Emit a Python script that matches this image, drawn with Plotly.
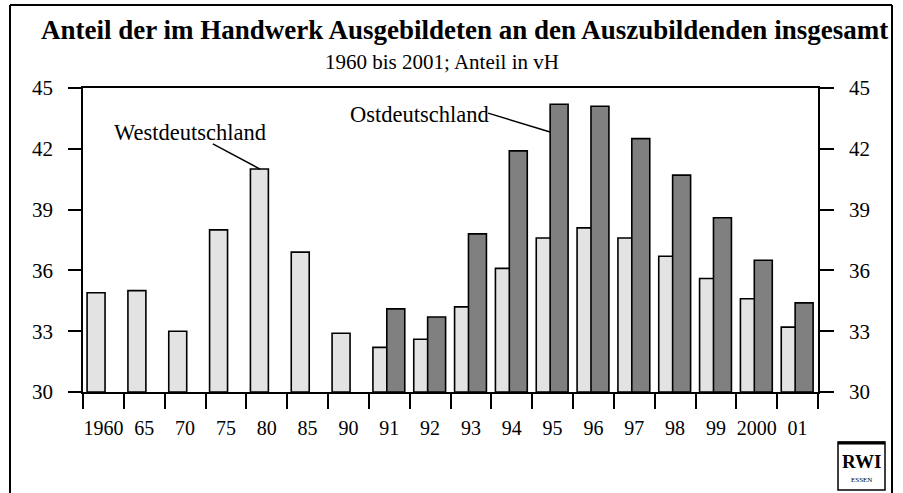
import plotly.graph_objects as go

categories = ["1960", "65", "70", "75", "80", "85", "90", "91", "92", "93",
              "94", "95", "96", "97", "98", "99", "2000", "01"]
west = [34.9, 35.0, 33.0, 38.0, 41.0, 36.9, 32.9, 32.2, 32.6, 34.2,
        36.1, 37.6, 38.1, 37.6, 36.7, 35.6, 34.6, 33.2]
east = [None, None, None, None, None, None, None, 34.1, 33.7, 37.8,
        41.9, 44.2, 44.1, 42.5, 40.7, 38.6, 36.5, 34.4]
y_ticks = [30, 33, 36, 39, 42, 45]

title = "Anteil der im Handwerk Ausgebildeten an den Auszubildenden insgesamt"
subtitle = "1960 bis 2001; Anteil in vH"

FONT = "Liberation Serif"

fig = go.Figure()
fig.add_trace(go.Bar(
    x=categories, y=[v - 30 for v in west], base=30,
    offset=-0.40, width=0.44,
    marker=dict(color="#e3e3e3", line=dict(color="black", width=1.6)),
    name="Westdeutschland", showlegend=False, hoverinfo="skip",
))
fig.add_trace(go.Bar(
    x=categories, y=[(v - 30) if v is not None else None for v in east], base=30,
    offset=-0.06, width=0.44,
    marker=dict(color="#808080", line=dict(color="black", width=1.6)),
    name="Ostdeutschland", showlegend=False, hoverinfo="skip",
))
# invisible trace to activate the right-hand axis
fig.add_trace(go.Scatter(
    x=categories, y=west, yaxis="y2", mode="markers",
    marker=dict(opacity=0), showlegend=False, hoverinfo="skip",
))

axis_font = dict(family=FONT, size=20, color="black")

fig.update_layout(
    width=903, height=493,
    margin=dict(l=83, r=85, t=88, b=101),
    paper_bgcolor="white", plot_bgcolor="white",
    barmode="overlay",
    font=dict(family=FONT, color="black"),
    xaxis=dict(
        type="category", range=[-0.5, 17.5],
        showline=True, linecolor="black", linewidth=1.5, mirror=True,
        ticks="outside", tickson="boundaries", ticklen=15, tickwidth=1.5,
        tickcolor="black", tickfont=axis_font, showgrid=False,
        tickangle=0, ticklabelstandoff=17, automargin=False,
    ),
    yaxis=dict(
        range=[30, 45], tickvals=y_ticks,
        showline=True, linecolor="black", linewidth=1.5,
        ticks="outside", ticklen=13, tickwidth=1.5, tickcolor="black",
        tickfont=dict(family=FONT, size=21, color="black"), showgrid=False,
        zeroline=False, ticklabelstandoff=11, automargin=False,
    ),
    yaxis2=dict(
        range=[30, 45], tickvals=y_ticks, overlaying="y", side="right",
        showline=True, linecolor="black", linewidth=1.5,
        ticks="outside", ticklen=14, tickwidth=1.5, tickcolor="black",
        tickfont=dict(family=FONT, size=21, color="black"), showgrid=False,
        zeroline=False, ticklabelstandoff=11, automargin=False,
    ),
)

# outer frame (left, top, right; open at the bottom)
L, R, T, B = 83, 818, 88, 392
def px(xp):
    return (xp - L) / (R - L)
def py(yp):
    return (B - yp) / (B - T)

frame = dict(type="line", xref="paper", yref="paper", line=dict(color="black", width=2))
fig.add_shape(**frame, x0=px(10), x1=px(10), y0=py(5), y1=py(510))
fig.add_shape(**frame, x0=px(10), x1=px(892), y0=py(5), y1=py(5))
fig.add_shape(**frame, x0=px(892), x1=px(892), y0=py(5), y1=py(510))

# title and subtitle
fig.add_annotation(text="<b>" + title + "</b>", xref="paper", yref="paper",
                   x=px(464), y=py(30), xanchor="center", yanchor="middle",
                   showarrow=False, font=dict(family=FONT, size=27, color="black"))
fig.add_annotation(text=subtitle, xref="paper", yref="paper",
                   x=px(442), y=py(62), xanchor="center", yanchor="middle",
                   showarrow=False, font=dict(family=FONT, size=21, color="black"))

# series labels with leader lines
lab_font = dict(family=FONT, size=22.5, color="black")
fig.add_annotation(text="Westdeutschland", xref="x", yref="y", x=2.12, y=42.78,
                   showarrow=False, font=lab_font)
fig.add_shape(type="line", xref="x", yref="y", x0=2.68, y0=42.24, x1=3.835, y1=41.0,
              line=dict(color="black", width=1.5))
fig.add_annotation(text="Ostdeutschland", xref="x", yref="y", x=7.73, y=43.67,
                   showarrow=False, font=lab_font)
fig.add_shape(type="line", xref="x", yref="y", x0=9.42, y0=43.76, x1=10.94, y1=42.83,
              line=dict(color="black", width=1.5))

# RWI logo
fig.add_shape(type="rect", xref="paper", yref="paper",
              x0=px(838), x1=px(885), y0=py(490), y1=py(442),
              line=dict(color="black", width=1.5), fillcolor="white")
fig.add_shape(type="line", xref="paper", yref="paper",
              x0=px(838), x1=px(885), y0=py(443), y1=py(443),
              line=dict(color="black", width=3))
fig.add_annotation(text="<b>RWI</b>", xref="paper", yref="paper",
                   x=px(861.5), y=py(462), xanchor="center", yanchor="middle",
                   showarrow=False,
                   font=dict(family=FONT, size=19, color="black"))
fig.add_annotation(text="ESSEN", xref="paper", yref="paper",
                   x=px(861.5), y=py(480), xanchor="center", yanchor="middle",
                   showarrow=False,
                   font=dict(family=FONT, size=7, color="black"))

fig.write_html("out.html", post_script="document.body.style.margin='0';",
               config={"displayModeBar": False})
